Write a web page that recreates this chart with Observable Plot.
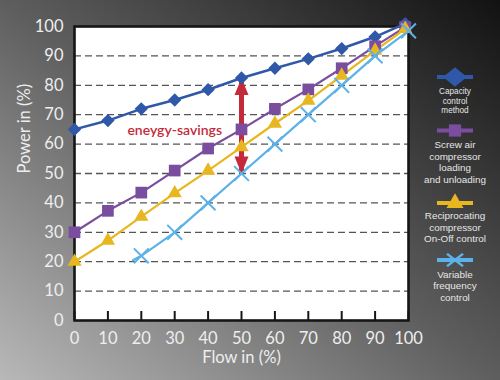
<!DOCTYPE html>
<html><head><meta charset="utf-8">
<script src="https://cdn.jsdelivr.net/npm/d3@7"></script>
<script src="https://cdn.jsdelivr.net/npm/@observablehq/plot@0.6"></script>
<style>
html,body{margin:0;padding:0;background:#555;}
body{width:500px;height:380px;overflow:hidden;}
#wrap{position:relative;width:500px;height:380px;background:linear-gradient(to top right,#b8b8b8 0%,#5e5e5e 50%,#121212 100%);font-family:Lato,sans-serif;}
#wrap svg{position:absolute;left:0;top:0;}
</style></head><body><div id="wrap"></div>
<script>
// ---- data ----
const flow = [0, 10, 20, 30, 40, 50, 60, 70, 80, 90, 99];
const capacity = [65, 68, 72, 75, 78.5, 82.5, 85.8, 89, 92.5, 96.5, 101];
const screw = [30, 37.3, 43.5, 51, 58.5, 65, 72, 78.6, 85.8, 93.3, 99.8];
const recip = [20, 27.2, 35.3, 43.3, 51, 59, 67, 74.8, 83.3, 91.8, 99.2];
const vfdFlow = [17.5, 20, 30, 40, 50, 60, 70, 80, 90, 100];
const vfdPower = [20.5, 22, 30, 40, 50, 60, 70, 80, 90, 98.5];
const vfdMarkerFrom = 20;
const seriesNames = ["Capacity control method", "Screw air compressor loading and unloading", "Reciprocating compressor On-Off control", "Variable frequency control"];
const legendLines = [["Capacity", "control", "method"], ["Screw air", "compressor", "loading", "and unloading"], ["Reciprocating", "compressor", "On-Off control"], ["Variable", "frequency", "control"]];
const colors = ["#2f58a8", "#7a4d9e", "#e8b61e", "#5cb2e8"];
const xTicks = [0, 10, 20, 30, 40, 50, 60, 70, 80, 90, 100];
const yTicks = [0, 10, 20, 30, 40, 50, 60, 70, 80, 90, 100];
const gridTicks = [10, 20, 30, 40, 50, 60, 70, 80, 90];
const xTitle = ["Flow in (%)"];
const yTitle = ["Power in (%)"];
const savingsArrow = [{x: 50, y1: 50, y2: 82.5}];
const savingsLabel = [{x: 30, y: 64.5, text: "eneygy-savings"}];
const red = "#c42a3a";

const rows = (xs, ys, s) => xs.map((x, i) => ({flow: x, power: ys[i], series: s}));
const capRows = rows(flow, capacity, seriesNames[0]);
const screwRows = rows(flow, screw, seriesNames[1]);
const recipRows = rows(flow, recip, seriesNames[2]);
const vfdRows = rows(vfdFlow, vfdPower, seriesNames[3]);

const headUp = {draw(ctx) { ctx.moveTo(0, 0); ctx.lineTo(7, 17); ctx.lineTo(-7, 17); ctx.closePath(); }};

const chart = Plot.plot({
  width: 500, height: 380,
  marginLeft: 74, marginRight: 92, marginTop: 26, marginBottom: 60,
  style: {background: "transparent", fontFamily: "Lato", fontSize: "16px", color: "#eeeeee", overflow: "visible"},
  x: {domain: [0, 100]},
  y: {domain: [0, 100]},
  marks: [
    Plot.frame({fill: "white"}),
    Plot.ruleY(gridTicks, {stroke: "#555", strokeDasharray: "7,4", strokeWidth: 1.3}),
    Plot.frame({stroke: "#161616", strokeWidth: 2.6}),
    Plot.axisY(yTicks, {tickSize: 0, tickPadding: 11, fontSize: 16.5, fill: "#eeeeee", label: null}),
    Plot.axisX(xTicks, {tickSize: -9, stroke: "#161616", strokeWidth: 2, tickFormat: () => "", label: null}),
    Plot.axisX(xTicks, {tickSize: 0, tickPadding: 12, fontSize: 16.5, fill: "#eeeeee", label: null}),
    Plot.text(xTitle, {frameAnchor: "bottom", dy: 42.5, text: d => d, fontSize: 16.5, fill: "#eeeeee"}),
    Plot.text(yTitle, {frameAnchor: "left", dx: -50, rotate: -90, text: d => d, fontSize: 16.5, fill: "#eeeeee"}),
    Plot.line(capRows, {x: "flow", y: "power", stroke: colors[0], strokeWidth: 2.5}),
    Plot.line(screwRows, {x: "flow", y: "power", stroke: colors[1], strokeWidth: 2.2}),
    Plot.line(recipRows, {x: "flow", y: "power", stroke: colors[2], strokeWidth: 2.2}),
    Plot.line(vfdRows, {x: "flow", y: "power", stroke: colors[3], strokeWidth: 2.2}),
    Plot.ruleX(savingsArrow, {x: "x", y1: "y1", y2: "y2", stroke: red, strokeWidth: 5}),
    Plot.dot(savingsArrow, {x: "x", y: "y2", symbol: headUp, r: 5, fill: red}),
    Plot.dot(savingsArrow, {x: "x", y: "y1", symbol: headUp, r: 5, fill: red, rotate: 180}),
    Plot.dot(capRows, {x: "flow", y: "power", symbol: "diamond2", r: 6, fill: colors[0]}),
    Plot.dot(screwRows, {x: "flow", y: "power", symbol: "square", r: 6.6, fill: colors[1]}),
    Plot.dot(recipRows, {x: "flow", y: "power", symbol: "triangle", r: 5.3, fill: colors[2]}),
    Plot.dot(vfdRows.filter(d => d.flow >= vfdMarkerFrom), {x: "flow", y: "power", symbol: "times", r: 6.8, stroke: colors[3], strokeWidth: 2}),
    Plot.text(savingsLabel, {x: "x", y: "y", text: "text", fill: red, fontSize: 14, fontWeight: 600})
  ]
});
document.getElementById("wrap").appendChild(chart);

// ---- legend ----
const lg = d3.select("#wrap").append("svg").attr("width", 500).attr("height", 380)
  .style("font-family", "'Liberation Sans', Arial, sans-serif").style("pointer-events", "none");
const legendY = [77, 130.5, 203, 260];
const legendSymbols = [
  {type: d3.symbolDiamond2, size: 300, fill: true, sx: 1.1, sy: 0.9},
  {type: d3.symbolSquare, size: 150, fill: true, sx: 1, sy: 1},
  {type: d3.symbolTriangle, size: 125, fill: true, sx: 1, sy: 1},
  {type: d3.symbolTimes, size: 140, fill: false, sx: 1.1, sy: 0.85}
];
const fontSizes = [8.2, 9.9, 9.9, 9.9];
const lineGap = [9.5, 11.5, 11.5, 11.5];
const firstOffset = [14.5, 14.5, 13, 14.5];
legendY.forEach((y, i) => {
  const g = lg.append("g");
  g.append("line").attr("x1", 437).attr("x2", 473).attr("y1", y).attr("y2", y)
    .attr("stroke", colors[i]).attr("stroke-width", 4);
  const s = legendSymbols[i];
  g.append("path").attr("d", d3.symbol(s.type, s.size)())
    .attr("transform", `translate(455,${y}) scale(${s.sx},${s.sy})`)
    .attr("fill", s.fill ? colors[i] : "none")
    .attr("stroke", s.fill ? "none" : colors[i]).attr("stroke-width", 2.5);
  const t = g.append("text").attr("text-anchor", "middle")
    .attr("fill", "#e6e6e6").attr("font-size", fontSizes[i]);
  legendLines[i].forEach((line, j) => {
    t.append("tspan").attr("x", 455).attr("y", y + firstOffset[i] + j * lineGap[i])
      .attr("dy", "0.35em").text(line);
  });
});
</script></body></html>
